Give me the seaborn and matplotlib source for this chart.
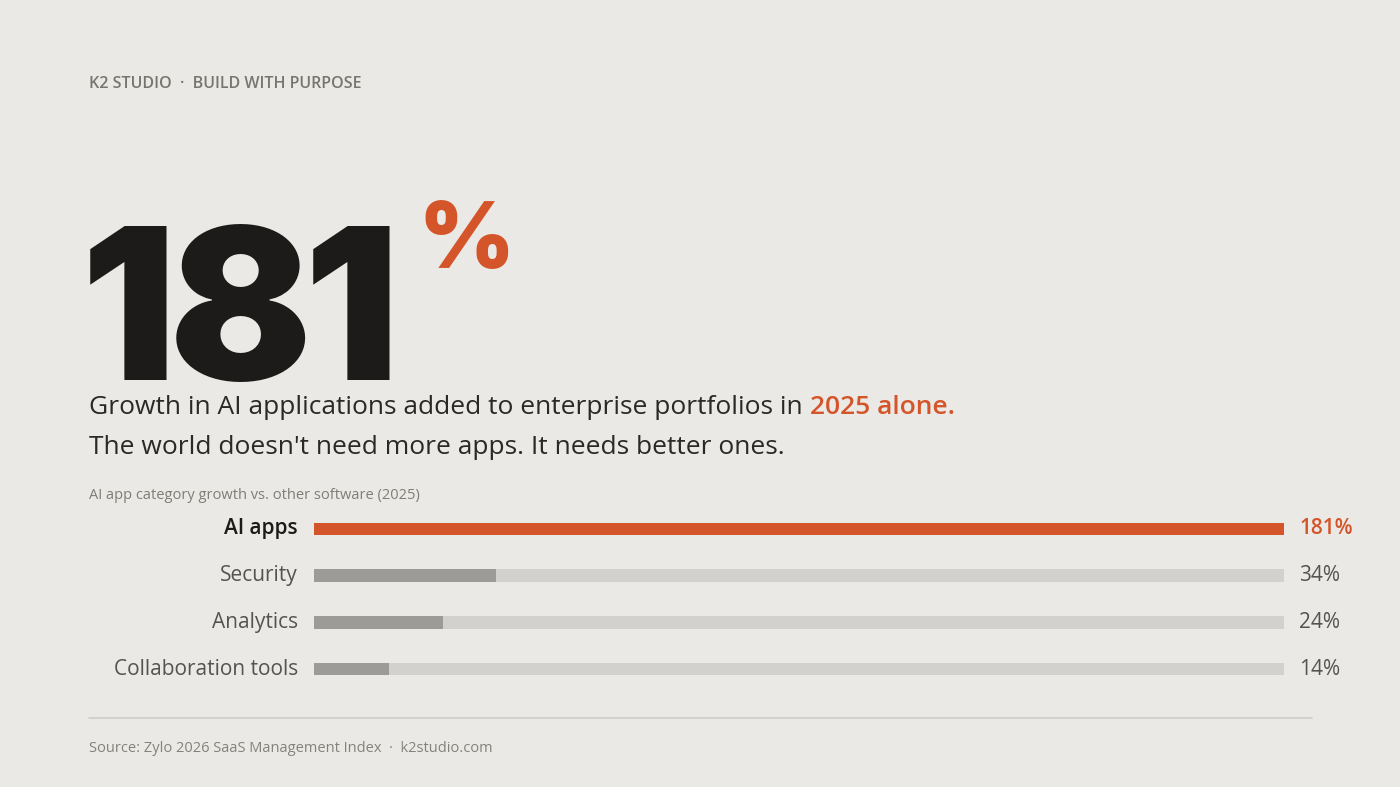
import matplotlib.pyplot as plt
import seaborn as sns
import pandas as pd

categories = ["AI apps", "Security", "Analytics", "Collaboration tools"]
growth = [181, 34, 24, 14]
max_value = 181

BG = "#EBE9E5"
ORANGE = "#D4552A"
DARK = "#1C1B1A"
GREY_BAR = "#9C9B98"
TRACK = "#D3D1CD"

sns.set_theme(style="white")
plt.rcParams['font.family'] = ['Open Sans', 'DejaVu Sans']

fig = plt.figure(figsize=(14, 7.87), dpi=100)
fig.patch.set_facecolor(BG)

def px(x, y):
    return x / 1400, 1 - y / 787

# header
fig.text(*px(89, 84), "K2 STUDIO  ·  BUILD WITH PURPOSE", fontsize=11.5,
         color="#77756F", va="center", weight="semibold")

# big number, digits set one by one with tighter tracking
big = dict(fontsize=152, weight="black", color=DARK, va="baseline", ha="left",
           family="Inter")
x = 81
for digit, shift in zip("181", [0, -8, -8]):
    x += shift
    d = fig.text(*px(x, 380), digit, **big)
    fig.canvas.draw()
    x = d.get_window_extent().x1
fig.text(*px(418, 268), "%", fontsize=66, weight="black", color=ORANGE,
         va="baseline", ha="left", family="Inter")

t = fig.text(*px(89, 407), "Growth in AI applications added to enterprise portfolios in ",
             fontsize=19, color="#2A2927", va="center")
fig.canvas.draw()
bb = t.get_window_extent()
fig.text(bb.x1 / 1400, 1 - 407 / 787, "2025 alone.", fontsize=19, color=ORANGE,
         va="center", weight="semibold")
fig.text(*px(89, 448), "The world doesn't need more apps. It needs better ones.",
         fontsize=19, color="#2A2927", va="center")
fig.text(*px(89, 495), "AI app category growth vs. other software (2025)",
         fontsize=10.5, color="#7F7D78", va="center")

# bar chart
df = pd.DataFrame({"category": categories, "growth": growth})
ax = fig.add_axes([314 / 1400, 1 - 692.5 / 787, 970 / 1400, 187 / 787])
ax.set_facecolor(BG)
sns.barplot(data=df, y="category", x=[max_value] * len(df), color=TRACK,
            width=0.27, ax=ax, saturation=1, linewidth=0)
colors = [ORANGE] + [GREY_BAR] * (len(df) - 1)
sns.barplot(data=df, y="category", x="growth", hue="category", palette=colors,
            width=0.27, ax=ax, saturation=1, legend=False, linewidth=0)
ax.set_xlim(0, max_value)
ax.set_ylim(3.5, -0.5)
ax.set_xlabel("")
ax.set_ylabel("")
ax.set_xticks([])
ax.set_yticks([])
for s in ax.spines.values():
    s.set_visible(False)

for i, (cat, val) in enumerate(zip(categories, growth)):
    first = i == 0
    ax.annotate(cat, (0, i), xytext=(-16, 0), textcoords="offset pixels",
                ha="right", va="center", fontsize=15,
                color=DARK if first else "#55534F",
                weight="semibold" if first else "normal")
    ax.annotate(f"{val}%", (max_value, i), xytext=(15, 0), textcoords="offset pixels",
                ha="left", va="center", fontsize=15,
                color=ORANGE if first else "#55534F",
                weight="semibold" if first else "normal")

# footer
fig.add_artist(plt.Line2D([89 / 1400, 1312 / 1400], [1 - 718 / 787] * 2,
                          color="#CFCDC9", lw=1.2))
fig.text(*px(89, 749), "Source: Zylo 2026 SaaS Management Index  ·  k2studio.com",
         fontsize=10.5, color="#84827D", va="center")

fig.savefig("out.png", dpi=100, facecolor=BG)
